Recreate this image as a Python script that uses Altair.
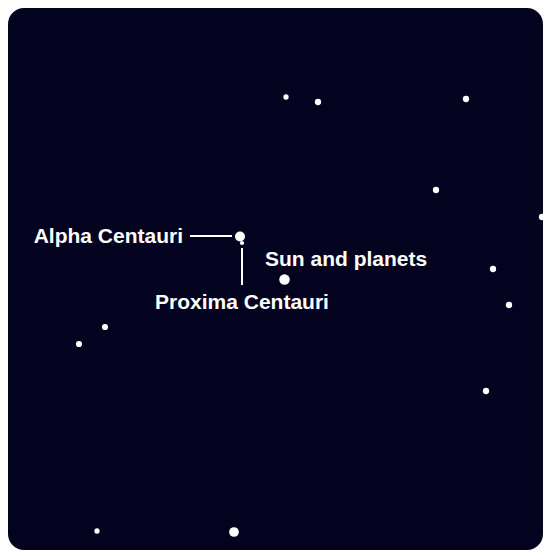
import altair as alt
import pandas as pd

# Star map coordinates (map units, origin top-left)
star_x = [278, 310, 458, 428, 534, 485, 501, 97, 71, 478, 89, 226]
star_y = [89, 94, 91, 182, 209, 261, 297, 319, 336, 383, 523, 524]
star_size = [28, 40, 40, 40, 40, 40, 40, 38, 38, 40, 28, 95]

named = ["Alpha Centauri", "Proxima Centauri", "Sun and planets"]
named_x = [232, 234, 276.5]
named_y = [228.5, 235, 271.5]
named_size = [100, 18, 110]

label_text = ["Alpha Centauri", "Sun and planets", "Proxima Centauri"]
label_x = [175, 257, 234]
label_y = [235, 258, 301]
label_align = ["right", "left", "center"]

seg_x = [182, 234]
seg_x2 = [224, 234]
seg_y = [228, 240]
seg_y2 = [228, 277]

W, H = 535, 542
xs = alt.Scale(domain=[0, W], range=[0, W])
ys = alt.Scale(domain=[0, H], range=[0, H])

stars = pd.DataFrame({"x": star_x, "y": star_y, "s": star_size})
named_df = pd.DataFrame({"name": named, "x": named_x, "y": named_y, "s": named_size})
labels = pd.DataFrame({"t": label_text, "x": label_x, "y": label_y, "a": label_align})
segs = pd.DataFrame({"x": seg_x, "x2": seg_x2, "y": seg_y, "y2": seg_y2})

def pts(df):
    return alt.Chart(df).mark_circle(color="white", opacity=1).encode(
        x=alt.X("x:Q", scale=xs, axis=None),
        y=alt.Y("y:Q", scale=ys, axis=None),
        size=alt.Size("s:Q", scale=None, legend=None),
    )

rules = alt.Chart(segs).mark_rule(color="white", strokeWidth=2).encode(
    x=alt.X("x:Q", scale=xs, axis=None),
    x2="x2:Q",
    y=alt.Y("y:Q", scale=ys, axis=None),
    y2="y2:Q",
)

def txt(i):
    d = labels.iloc[[i]]
    return alt.Chart(d).mark_text(
        color="white", font="Liberation Sans", fontWeight="bold", fontSize=21,
        align=label_align[i], baseline="alphabetic",
    ).encode(
        x=alt.X("x:Q", scale=xs, axis=None),
        y=alt.Y("y:Q", scale=ys, axis=None),
        text="t:N",
    )

chart = alt.layer(rules, pts(stars), pts(named_df), txt(0), txt(1), txt(2)).properties(
    width=W, height=H, padding=0, background="white",
    autosize=alt.AutoSizeParams(type="none"),
).configure_view(fill="#03031f", stroke=None, cornerRadius=16)

chart.save("out.html", embed_options={"renderer": "svg", "actions": False})
